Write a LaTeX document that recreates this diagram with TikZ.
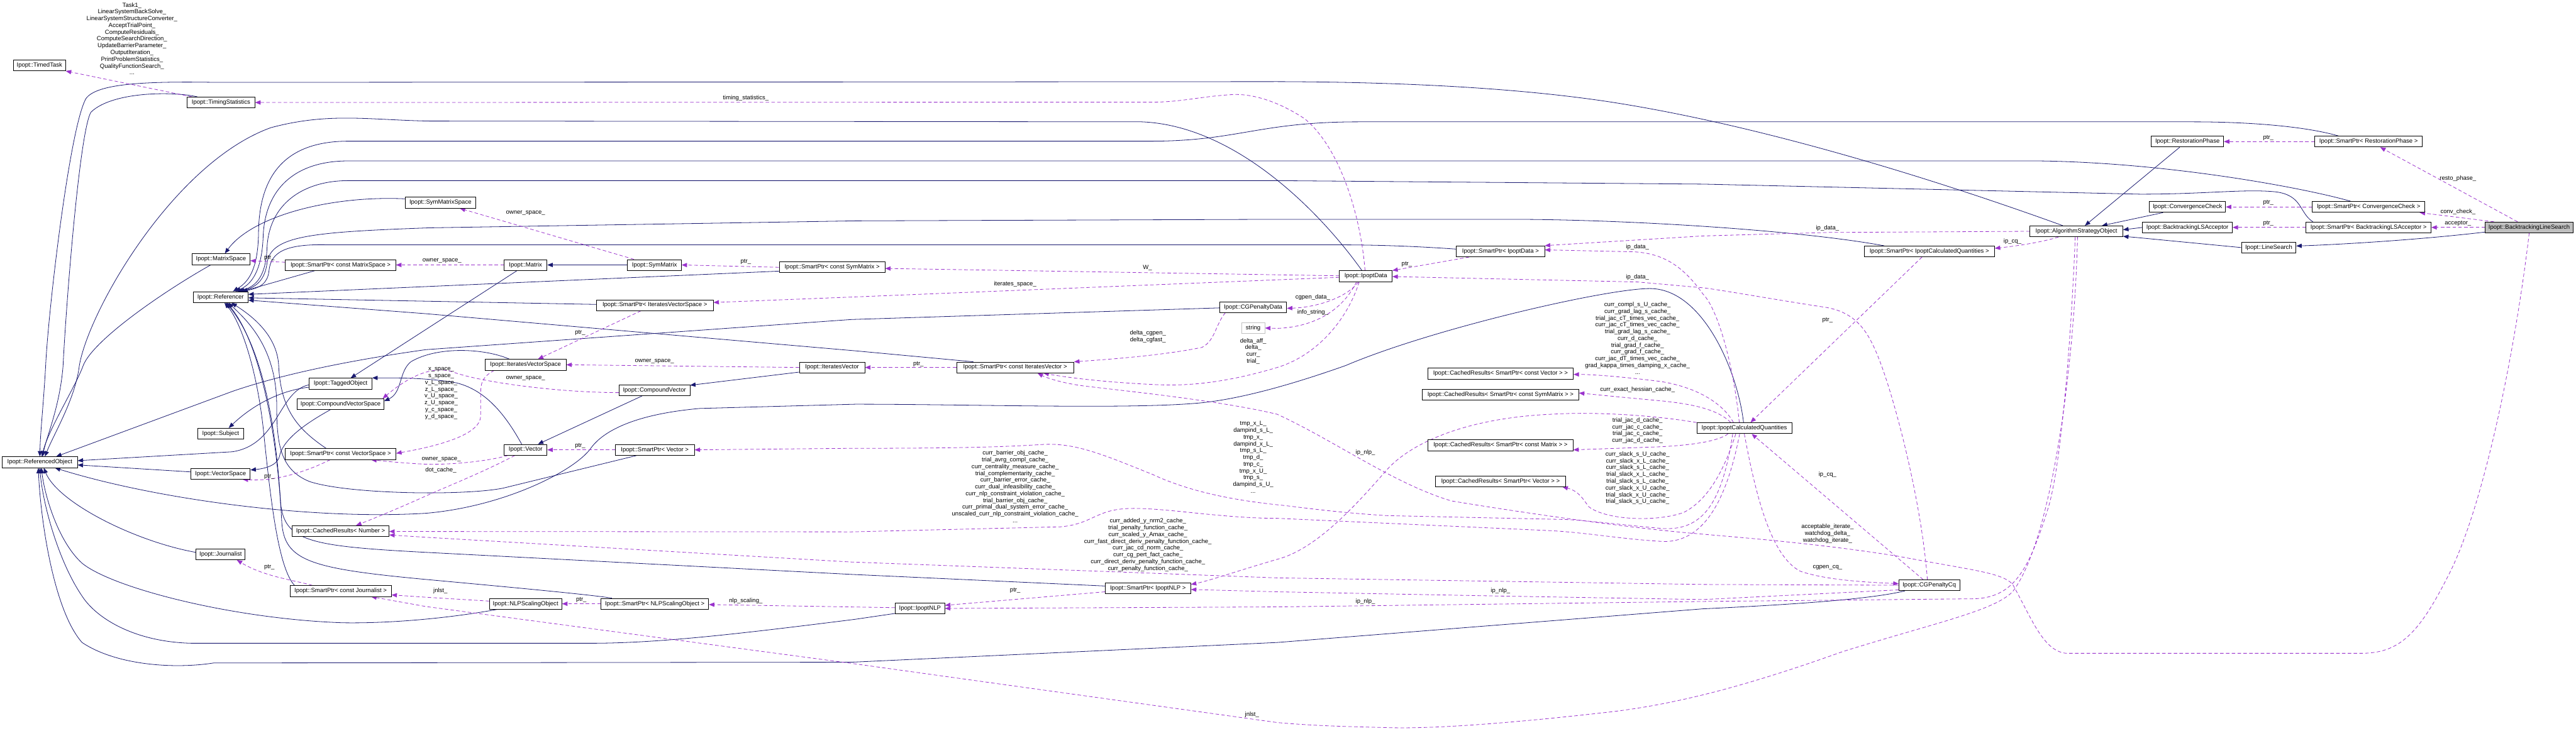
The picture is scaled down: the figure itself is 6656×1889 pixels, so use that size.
\documentclass[tikz,border=0pt]{standalone}
\usepackage{fontspec}
\setmainfont{Liberation Sans}
\usetikzlibrary{arrows.meta}
\definecolor{inhc}{HTML}{191970}
\definecolor{usec}{HTML}{9A32CD}
\pgfdeclarelayer{bg}
\pgfsetlayers{bg,main}
\newcommand{\dxfont}{\fontsize{15.5pt}{17.5pt}\selectfont}
\begin{document}
\begin{tikzpicture}[x=1pt,y=-1pt,
  box/.style={draw=black, line width=1.3pt, fill=white, minimum height=28pt, inner xsep=3pt, inner ysep=0pt, font=\dxfont, anchor=center},
  gbox/.style={box, draw=black!25},
  hbox/.style={box, fill=black!25},
  lbl/.style={font=\dxfont, align=center, inner sep=0pt, anchor=center},
  inh/.style={draw=inhc, line width=1.3pt, -{Triangle[length=14pt,width=11pt]}, fill=none},
  use/.style={draw=usec, line width=1.3pt, dash pattern=on 9pt off 6pt, -{Triangle[length=14pt,width=11pt]}, fill=none}
]
\useasboundingbox (0,0) rectangle (6656,1889);
% ---------------- nodes ----------------
\node[box, minimum width=136pt] (timed) at (102,169) {Ipopt::TimedTask};
\node[box, minimum width=175pt] (timing) at (571,265) {Ipopt::TimingStatistics};
\node[box, minimum width=150pt] (mspace) at (571,670) {Ipopt::MatrixSpace};
\node[box, minimum width=285pt] (spcmspace) at (880,685) {Ipopt::SmartPtr< const MatrixSpace >};
\node[box, minimum width=142pt] (refr) at (570,768) {Ipopt::Referencer};
\node[box, minimum width=181pt] (symspace) at (1138,524) {Ipopt::SymMatrixSpace};
\node[box, minimum width=111pt] (matrix) at (1358,685) {Ipopt::Matrix};
\node[box, minimum width=139pt] (symmat) at (1691,685) {Ipopt::SymMatrix};
\node[box, minimum width=273pt] (spcsym) at (2150,691) {Ipopt::SmartPtr< const SymMatrix >};
\node[box, minimum width=302pt] (spivs) at (1692,789) {Ipopt::SmartPtr< IteratesVectorSpace >};
\node[box, minimum width=209pt] (ivs) at (1358,943) {Ipopt::IteratesVectorSpace};
\node[box, minimum width=169pt] (itvec) at (2150,950) {Ipopt::IteratesVector};
\node[box, minimum width=303pt] (spciv) at (2623,950) {Ipopt::SmartPtr< const IteratesVector >};
\node[box, minimum width=162pt] (tagged) at (880,992) {Ipopt::TaggedObject};
\node[box, minimum width=224pt] (cvs) at (880,1045) {Ipopt::CompoundVectorSpace};
\node[box, minimum width=183pt] (cvec) at (1691,1009) {Ipopt::CompoundVector};
\node[box, minimum width=118pt] (subject) at (570,1121) {Ipopt::Subject};
\node[box, minimum width=194pt] (refobj) at (103,1195) {Ipopt::ReferencedObject};
\node[box, minimum width=286pt] (spcvs) at (880,1174) {Ipopt::SmartPtr< const VectorSpace >};
\node[box, minimum width=153pt] (vspace) at (570,1225) {Ipopt::VectorSpace};
\node[box, minimum width=111pt] (vec) at (1358,1163) {Ipopt::Vector};
\node[box, minimum width=204pt] (spvec) at (1692,1163) {Ipopt::SmartPtr< Vector >};
\node[box, minimum width=250pt] (crnum) at (880,1373) {Ipopt::CachedResults< Number >};
\node[box, minimum width=127pt] (jnl) at (570,1433) {Ipopt::Journalist};
\node[box, minimum width=262pt] (spcjnl) at (880,1528) {Ipopt::SmartPtr< const Journalist >};
\node[box, minimum width=187pt] (nlps) at (1358,1561) {Ipopt::NLPScalingObject};
\node[box, minimum width=278pt] (spnlps) at (1692,1561) {Ipopt::SmartPtr< NLPScalingObject >};
\node[box, minimum width=128pt] (nlp) at (2377,1573) {Ipopt::IpoptNLP};
\node[box, minimum width=221pt] (spnlp) at (2966,1521) {Ipopt::SmartPtr< IpoptNLP >};
\node[box, minimum width=173pt] (cgpd) at (3238,794) {Ipopt::CGPenaltyData};
\node[gbox, minimum width=60pt] (str) at (3238,848) {string};
\node[box, minimum width=136pt] (ipd) at (3529,714) {Ipopt::IpoptData};
\node[box, minimum width=228pt] (spipd) at (3877,650) {Ipopt::SmartPtr< IpoptData >};
\node[box, minimum width=376pt] (crcv) at (3877,966) {Ipopt::CachedResults< SmartPtr< const Vector > >};
\node[box, minimum width=404pt] (crcsm) at (3877,1020) {Ipopt::CachedResults< SmartPtr< const SymMatrix > >};
\node[box, minimum width=375pt] (crcm) at (3877,1151) {Ipopt::CachedResults< SmartPtr< const Matrix > >};
\node[box, minimum width=335pt] (crv) at (3877,1244) {Ipopt::CachedResults< SmartPtr< Vector > >};
\node[box, minimum width=245pt] (icq) at (4507,1107) {Ipopt::IpoptCalculatedQuantities};
\node[box, minimum width=337pt] (spicq) at (4985,650) {Ipopt::SmartPtr< IpoptCalculatedQuantities >};
\node[box, minimum width=240pt] (aso) at (5365,598) {Ipopt::AlgorithmStrategyObject};
\node[box, minimum width=157pt] (cgcq) at (4985,1513) {Ipopt::CGPenaltyCq};
\node[box, minimum width=187pt] (rp) at (5652,366) {Ipopt::RestorationPhase};
\node[box, minimum width=278pt] (sprp) at (6120,366) {Ipopt::SmartPtr< RestorationPhase >};
\node[box, minimum width=197pt] (cc) at (5652,535) {Ipopt::ConvergenceCheck};
\node[box, minimum width=291pt] (spcc) at (6120,535) {Ipopt::SmartPtr< ConvergenceCheck >};
\node[box, minimum width=232pt] (blsa) at (5652,588) {Ipopt::BacktrackingLSAcceptor};
\node[box, minimum width=323pt] (spblsa) at (6120,588) {Ipopt::SmartPtr< BacktrackingLSAcceptor >};
\node[hbox, minimum width=227pt] (bls) at (6535,588) {Ipopt::BacktrackingLineSearch};
\node[box, minimum width=141pt] (ls) at (5862,640) {Ipopt::LineSearch};
% ---------------- labels ----------------
\node[lbl] (l1) at (341,100) {Task1\_\\LinearSystemBackSolve\_\\LinearSystemStructureConverter\_\\AcceptTrialPoint\_\\ComputeResiduals\_\\ComputeSearchDirection\_\\UpdateBarrierParameter\_\\OutputIteration\_\\PrintProblemStatistics\_\\QualityFunctionSearch\_\\...};
\node[lbl] (l2) at (1927,254) {timing\_statistics\_};
\node[lbl] (l3) at (1358,550) {owner\_space\_};
\node[lbl] (l4) at (696,667) {ptr\_};
\node[lbl] (l5) at (1142,675) {owner\_space\_};
\node[lbl] (l6) at (1927,676) {ptr\_};
\node[lbl] (l7) at (2965,692) {W\_};
\node[lbl] (l8) at (2623,735) {iterates\_space\_};
\node[lbl] (l9) at (1499,860) {ptr\_};
\node[lbl] (l10) at (1691,935) {owner\_space\_};
\node[lbl] (l11) at (2966,870) {delta\_cgpen\_\\delta\_cgfast\_};
\node[lbl] (l12) at (3238,908) {delta\_aff\_\\delta\_\\curr\_\\trial\_};
\node[lbl] (l13) at (2373,941) {ptr\_};
\node[lbl] (l14) at (1140,1017) {x\_space\_\\s\_space\_\\v\_L\_space\_\\z\_L\_space\_\\v\_U\_space\_\\z\_U\_space\_\\y\_c\_space\_\\y\_d\_space\_};
\node[lbl] (l15) at (1358,978) {owner\_space\_};
\node[lbl] (l16) at (696,1232) {ptr\_};
\node[lbl] (l17) at (1140,1187) {owner\_space\_};
\node[lbl] (l18) at (1139,1215) {dot\_cache\_};
\node[lbl] (l19) at (1499,1152) {ptr\_};
\node[lbl] (l20) at (1138,1527) {jnlst\_};
\node[lbl] (l21) at (696,1467) {ptr\_};
\node[lbl] (l22) at (1502,1551) {ptr\_};
\node[lbl] (l23) at (1927,1554) {nlp\_scaling\_};
\node[lbl] (l24) at (2623,1526) {ptr\_};
\node[lbl] (l25) at (3235,1848) {jnlst\_};
\node[lbl] (l26) at (3238,1182) {tmp\_x\_L\_\\dampind\_s\_L\_\\tmp\_x\_\\dampind\_x\_L\_\\tmp\_s\_L\_\\tmp\_d\_\\tmp\_c\_\\tmp\_x\_U\_\\tmp\_s\_\\dampind\_s\_U\_\\...};
\node[lbl] (l27) at (2623,1258) {curr\_barrier\_obj\_cache\_\\trial\_avrg\_compl\_cache\_\\curr\_centrality\_measure\_cache\_\\trial\_complementarity\_cache\_\\curr\_barrier\_error\_cache\_\\curr\_dual\_infeasibility\_cache\_\\curr\_nlp\_constraint\_violation\_cache\_\\trial\_barrier\_obj\_cache\_\\curr\_primal\_dual\_system\_error\_cache\_\\unscaled\_curr\_nlp\_constraint\_violation\_cache\_\\...};
\node[lbl] (l28) at (2966,1409) {curr\_added\_y\_nrm2\_cache\_\\trial\_penalty\_function\_cache\_\\curr\_scaled\_y\_Amax\_cache\_\\curr\_fast\_direct\_deriv\_penalty\_function\_cache\_\\curr\_jac\_cd\_norm\_cache\_\\curr\_cg\_pert\_fact\_cache\_\\curr\_direct\_deriv\_penalty\_function\_cache\_\\curr\_penalty\_function\_cache\_};
\node[lbl] (l29) at (3392,768) {cgpen\_data\_};
\node[lbl] (l30) at (3392,807) {info\_string\_};
\node[lbl] (l31) at (3635,683) {ptr\_};
\node[lbl] (l32) at (4231,638) {ip\_data\_};
\node[lbl] (l33) at (4231,716) {ip\_data\_};
\node[lbl] (l34) at (4231,874) {curr\_compl\_s\_U\_cache\_\\curr\_grad\_lag\_s\_cache\_\\trial\_jac\_cT\_times\_vec\_cache\_\\curr\_jac\_cT\_times\_vec\_cache\_\\trial\_grad\_lag\_s\_cache\_\\curr\_d\_cache\_\\trial\_grad\_f\_cache\_\\curr\_grad\_f\_cache\_\\curr\_jac\_dT\_times\_vec\_cache\_\\grad\_kappa\_times\_damping\_x\_cache\_\\...};
\node[lbl] (l35) at (4231,1007) {curr\_exact\_hessian\_cache\_};
\node[lbl] (l36) at (4231,1113) {trial\_jac\_d\_cache\_\\curr\_jac\_c\_cache\_\\trial\_jac\_c\_cache\_\\curr\_jac\_d\_cache\_};
\node[lbl] (l37) at (4231,1236) {curr\_slack\_s\_U\_cache\_\\curr\_slack\_x\_L\_cache\_\\curr\_slack\_s\_L\_cache\_\\trial\_slack\_x\_L\_cache\_\\trial\_slack\_s\_L\_cache\_\\curr\_slack\_x\_U\_cache\_\\trial\_slack\_x\_U\_cache\_\\trial\_slack\_s\_U\_cache\_};
\node[lbl] (l38) at (3528,1170) {ip\_nlp\_};
\node[lbl] (l39) at (3877,1527) {ip\_nlp\_};
\node[lbl] (l40) at (3528,1555) {ip\_nlp\_};
\node[lbl] (l41) at (4722,590) {ip\_data\_};
\node[lbl] (l42) at (5200,624) {ip\_cq\_};
\node[lbl] (l43) at (4722,827) {ptr\_};
\node[lbl] (l44) at (4722,1227) {ip\_cq\_};
\node[lbl] (l45) at (4722,1380) {acceptable\_iterate\_\\watchdog\_delta\_\\watchdog\_iterate\_};
\node[lbl] (l46) at (4722,1467) {cgpen\_cq\_};
\node[lbl] (l47) at (5861,356) {ptr\_};
\node[lbl] (l48) at (6351,462) {resto\_phase\_};
\node[lbl] (l49) at (5861,524) {ptr\_};
\node[lbl] (l50) at (6351,547) {conv\_check\_};
\node[lbl] (l51) at (5861,577) {ptr\_};
\node[lbl] (l52) at (6351,577) {acceptor\_};
% ---------------- edges ----------------
\begin{pgfonlayer}{bg}
\fill[white] (0,0) rectangle (6656,1889);
% inheritance
\draw[inh] ([xshift=-61pt]timing.north) .. controls (450,236) and (290,236) .. (235,290) .. controls (205,340) and (170,800) .. (163,945) .. controls (155,1050) and (120,1130) .. ([xshift=7pt]refobj.north);
\draw[inh] ([xshift=-35pt]aso.north) .. controls (5100,500) and (4600,330) .. (4150,262) .. controls (3900,225) and (3600,212) .. (3300,211) -- (560,213) .. controls (380,210) and (250,215) .. (222,255) .. controls (180,330) and (125,800) .. (118,945) .. controls (112,1050) and (104,1120) .. (refobj.north);
\draw[inh] ([xshift=-10pt]ipd.north) .. controls (3420,560) and (3200,325) .. (2950,315) -- (1110,313) .. controls (950,310) and (850,290) .. (700,330) .. controls (450,420) and (230,800) .. (205,945) .. controls (195,1030) and (140,1120) .. ([xshift=13pt]refobj.north);
\draw[inh] ([xshift=-78pt]sprp.north) .. controls (5950,325) and (5800,315) .. (5665,315) -- (3512,315) .. controls (3250,315) and (3200,365) .. (2972,365) -- (900,365) .. controls (740,365) and (670,450) .. (668,600) .. controls (667,700) and (640,730) .. ([xshift=32pt]refr.north);
\draw[inh] ([xshift=-46pt]spcc.north) .. controls (5950,485) and (5600,420) .. (5265,416) -- (900,416) .. controls (760,416) and (685,490) .. (680,610) .. controls (677,700) and (650,735) .. ([xshift=38pt]refr.north);
\draw[inh] ([xshift=-144pt]spblsa.north) .. controls (5940,550) and (5950,505) .. (5880,496) .. controls (5800,488) and (5700,502) .. (5530,502) -- (4400,476) -- (3300,467) -- (900,467) .. controls (780,467) and (695,530) .. (690,640) .. controls (687,710) and (665,740) .. ([xshift=44pt]refr.north);
\draw[inh] ([yshift=10pt]symspace.west) .. controls (850,505) and (650,560) .. ([xshift=10pt]mspace.north);
\draw[inh] ([xshift=-117pt]spicq.north) .. controls (4650,595) and (4200,567) .. (3900,567) -- (3300,567) -- (2210,571) -- (1110,589) .. controls (800,600) and (700,610) .. (690,680) .. controls (685,720) and (665,742) .. ([xshift=48pt]refr.north);
\draw[inh] ([yshift=6pt]spipd.west) .. controls (3650,636) and (3550,633) .. (3450,633) -- (850,633) .. controls (740,630) and (700,650) .. (695,700) .. controls (692,730) and (675,745) .. ([xshift=52pt]refr.north);
\draw[inh] ([xshift=-66pt]spcmspace.south) -- ([xshift=56pt]refr.north);
\draw[inh] ([yshift=-10pt]spcsym.west) -- ([yshift=7pt]refr.east);
\draw[inh] ([yshift=2pt]spivs.west) -- ([yshift=-2pt]refr.east);
\draw[inh] ([xshift=-108pt]spciv.north) -- (2210,907) -- (1100,811) -- ([yshift=-8pt]refr.east);
\draw[inh] ([xshift=-22pt]matrix.south) -- ([xshift=26pt]tagged.north);
\draw[inh] ([xshift=-37pt]spcvs.north) .. controls (770,1110) and (725,1060) .. (720,944) .. controls (715,860) and (640,810) .. ([xshift=28pt]refr.south);
\draw[inh] ([xshift=-119pt]spcjnl.north) .. controls (720,1470) and (700,1300) .. (682,1125) .. controls (665,950) and (620,830) .. ([xshift=10pt]refr.south);
\draw[inh] ([xshift=-47pt]spvec.south) -- (1300,1262) .. controls (1200,1282) and (900,1278) .. (800,1245) .. controls (725,1215) and (715,1150) .. (715,1050) .. controls (715,900) and (640,830) .. ([xshift=20pt]refr.south);
\draw[inh] ([yshift=6pt]spnlp.west) -- (2200,1485) -- (1100,1428) .. controls (800,1412) and (735,1400) .. (725,1300) .. controls (710,1050) and (665,880) .. ([xshift=14pt]refr.south);
\draw[inh] ([xshift=-111pt]spnlps.north) .. controls (1540,1540) and (1450,1530) .. (1100,1498) .. controls (800,1470) and (735,1450) .. (728,1350) .. controls (715,1100) and (668,880) .. ([xshift=16pt]refr.south);
\draw[inh] ([yshift=-2pt]cgpd.west) -- (2200,826) -- (1100,904) .. controls (950,925) and (750,960) .. (600,1012) -- ([xshift=42pt]refobj.north);
\draw[inh] ([yshift=-3pt]tagged.west) .. controls (720,1010) and (720,1150) .. (600,1168) -- ([yshift=4pt]refobj.east);
\draw[inh] ([yshift=-9pt]tagged.west) .. controls (720,1010) and (650,1050) .. ([xshift=21pt]subject.north);
\draw[inh] ([yshift=5pt]vspace.west) -- ([yshift=-7pt]refobj.east);
\draw[inh] ([xshift=-27pt]cvs.south) .. controls (780,1100) and (730,1140) .. (722,1180) .. controls (716,1205) and (680,1212) .. ([yshift=10pt]vspace.east);
\draw[inh] ([xshift=-42pt]ivs.north) .. controls (1250,900) and (1130,895) .. (1062,935) .. controls (1030,960) and (1040,1015) .. ([yshift=8pt]cvs.east);
\draw[inh] ([yshift=-12pt]itvec.west) -- ([yshift=13pt]cvec.east);
\draw[inh] ([xshift=-32pt]cvec.south) -- ([xshift=32pt]vec.north);
\draw[inh] ([xshift=-10pt]vec.north) .. controls (1310,1080) and (1260,1010) .. (1180,990) .. controls (1100,975) and (1000,977) .. ([yshift=15pt]tagged.east);
\draw[inh] (symmat.west) -- (matrix.east);
\draw[inh] ([xshift=-26pt]mspace.south) .. controls (420,755) and (240,880) .. (215,945) .. controls (195,1000) and (125,1110) .. ([xshift=5pt]refobj.north);
\draw[inh] ([yshift=5pt]jnl.west) .. controls (350,1400) and (150,1300) .. ([xshift=10pt]refobj.south);
\draw[inh] ([xshift=-2pt]icq.north) .. controls (4490,960) and (4400,746) .. (4263,746) .. controls (4150,746) and (3700,850) .. (3477,945) .. controls (3350,990) and (3200,1035) .. (3085,1043) .. controls (2900,1058) and (2500,1045) .. (2210,1045) -- (1808,1056) .. controls (1650,1070) and (1560,1110) .. (1525,1161) .. controls (1480,1220) and (1300,1310) .. (1100,1327) .. controls (800,1345) and (400,1290) .. ([xshift=39pt]refobj.south);
\draw[inh] ([xshift=-74pt]nlps.south) .. controls (1150,1600) and (1000,1612) .. (885,1610) .. controls (600,1600) and (290,1520) .. (212,1456) .. controls (150,1400) and (115,1280) .. ([xshift=4pt]refobj.south);
\draw[inh] ([yshift=-13pt]nlp.west) -- (2210,1601) .. controls (1900,1640) and (1700,1663) .. (1525,1663) -- (496,1663) .. controls (350,1660) and (250,1600) .. (212,1541) .. controls (150,1450) and (110,1300) .. (refobj.south);
\draw[inh] ([xshift=-63pt]cgcq.south) .. controls (4850,1545) and (4700,1560) .. (4400,1574) -- (3300,1661) -- (2200,1712) -- (552,1714) .. controls (450,1730) and (300,1720) .. (212,1661) .. controls (140,1580) and (105,1350) .. ([xshift=-4pt]refobj.south);
\draw[inh] ([xshift=-20pt]rp.south) -- ([xshift=22pt]aso.north);
\draw[inh] ([xshift=-63pt]cc.south) -- ([xshift=66pt]aso.north);
\draw[inh] (blsa.west) -- ([yshift=4pt]aso.east);
\draw[inh] (ls.west) -- (5520,614) -- ([yshift=-13pt]aso.east);
\draw[inh] ([yshift=-12pt]bls.west) .. controls (6250,620) and (6050,632) .. ([yshift=4pt]ls.east);
% usage
\draw[use] ([xshift=-75pt]timing.north) -- ([xshift=68pt]timed.south);
\draw[use] ([xshift=-2pt]ipd.north) .. controls (3515,550) and (3460,380) .. (3371,307) .. controls (3300,260) and (3230,240) .. (3177,245) .. controls (3100,250) and (3050,264) .. (2979,264) -- (timing.east);
\draw[use] ([yshift=7pt]spcmspace.west) -- ([yshift=-4pt]mspace.east);
\draw[use] (matrix.west) -- (spcmspace.east);
\draw[use] ([xshift=-53pt]symmat.north) -- ([xshift=50pt]symspace.south);
\draw[use] (spcsym.west) -- (symmat.east);
\draw[use] ([yshift=1pt]ipd.west) -- ([yshift=-3pt]spcsym.east);
\draw[use] ([yshift=-3pt]ipd.west) -- (3310,723) -- (2200,768) -- ([yshift=7pt]spivs.east);
\draw[use] ([xshift=-36pt]spivs.south) -- ([xshift=32pt]ivs.north);
\draw[use] (itvec.west) -- (ivs.east);
\draw[use] ([yshift=-6pt]cvec.west) .. controls (1450,1015) and (1250,990) .. (1171,962) .. controls (1120,945) and (1060,970) .. ([xshift=-4pt]cvs.north east);
\draw[use] ([xshift=-81pt]ivs.south) .. controls (1245,975) and (1242,990) .. (1242,1020) -- (1242,1075) .. controls (1242,1120) and (1150,1150) .. ([yshift=2pt]spcvs.east);
\draw[use] ([xshift=-27pt]spcvs.south) .. controls (800,1215) and (720,1245) .. ([xshift=57pt]vspace.south);
\draw[use] ([xshift=-46pt]vec.south) .. controls (1250,1195) and (1150,1202) .. (1100,1200) .. controls (1050,1198) and (990,1192) .. ([xshift=79pt]spcvs.south);
\draw[use] ([xshift=-28pt]vec.south) .. controls (1250,1220) and (1150,1260) .. (1110,1278) .. controls (1050,1305) and (980,1335) .. ([xshift=40pt]crnum.north);
\draw[use] (spvec.west) -- (vec.east);
\draw[use] ([xshift=-30pt]icq.south) .. controls (4450,1300) and (4400,1375) .. (4291,1366) .. controls (4200,1358) and (4100,1345) .. (4043,1343) -- (3583,1333) .. controls (3450,1325) and (3350,1310) .. (3310,1306) .. controls (3150,1290) and (3050,1260) .. (2979,1227) .. controls (2850,1175) and (2780,1145) .. (2696,1149) .. controls (2600,1155) and (2500,1159) .. (2200,1159) -- (spvec.east);
\draw[use] ([xshift=-12pt]icq.south) .. controls (4460,1300) and (4400,1400) .. (4300,1400) .. controls (4200,1395) and (4100,1377) .. (4008,1372) -- (3300,1340) .. controls (3150,1340) and (3000,1310) .. (2908,1315) .. controls (2830,1320) and (2820,1355) .. (2740,1362) -- (2200,1375) -- ([yshift=-1pt]crnum.east);
\draw[use] (cgcq.west) -- (4400,1511) -- (3300,1494) -- (2200,1453) -- (1100,1389) -- ([yshift=-10pt]crnum.east);
\draw[use] ([yshift=-12pt]cgcq.west) -- (4400,1550) -- (3877,1541) -- (3300,1530) -- ([yshift=-3pt]spnlp.east);
\draw[use] (icq.north west) .. controls (4250,1070) and (4100,1065) .. (4008,1071) .. controls (3800,1080) and (3650,1140) .. (3583,1215) .. controls (3500,1310) and (3400,1420) .. (3300,1446) .. controls (3200,1475) and (3130,1500) .. ([yshift=10pt]spnlp.east);
\draw[use] ([xshift=-3pt]aso.south) .. controls (5355,800) and (5330,1200) .. (5290,1320) .. controls (5240,1480) and (5200,1545) .. (5100,1548) -- (4400,1555) -- (3300,1569) -- (nlp.east);
\draw[use] ([xshift=3pt]aso.south) .. controls (5360,950) and (5300,1400) .. (5200,1530) .. controls (5150,1580) and (5000,1610) .. (4760,1685) .. controls (4550,1760) and (4350,1820) .. (4148,1842) .. controls (3900,1870) and (3700,1885) .. (3583,1881) .. controls (3450,1878) and (3380,1875) .. (3300,1868) -- (2200,1715) -- (1100,1568) -- ([xshift=79pt]spcjnl.south);
\draw[use] ([yshift=7pt]nlps.west) -- (1100,1544) -- ([yshift=-10pt]spcjnl.east);
\draw[use] (spnlps.west) -- (nlps.east);
\draw[use] ([yshift=2pt]nlp.west) -- ([yshift=-2pt]spnlps.east);
\draw[use] ([yshift=-9pt]spnlp.west) -- ([yshift=8pt]nlp.east);
\draw[use] (aso.west) -- (4722,601) -- (4400,610) -- ([yshift=15pt]spipd.east);
\draw[use] ([xshift=-46pt]aso.south) .. controls (5280,625) and (5220,635) .. ([yshift=8pt]spicq.east);
\draw[use] ([xshift=-19pt]spicq.south) -- ([xshift=16pt]icq.north);
\draw[use] ([xshift=-13pt]icq.north) .. controls (4480,950) and (4440,800) .. (4400,760) .. controls (4350,690) and (4300,655) .. (4221,651) -- ([yshift=4pt]spipd.east);
\draw[use] ([xshift=-5pt]cgcq.north) .. controls (4965,1300) and (4900,1050) .. (4861,944) .. controls (4830,860) and (4800,810) .. (4720,795) .. controls (4600,777) and (4450,750) .. (4400,744) -- (4231,729) -- ([yshift=-1pt]ipd.east);
\draw[use] ([xshift=-16pt]cgcq.north) -- ([xshift=19pt]icq.south);
\draw[use] (icq.south) .. controls (4540,1300) and (4580,1440) .. (4652,1477) .. controls (4720,1500) and (4820,1505) .. ([yshift=4pt]cgcq.west);
\draw[use] (bls.south) .. controls (6500,900) and (6420,1300) .. (6330,1480) .. controls (6250,1640) and (6200,1689) .. (6100,1689) -- (5340,1689) .. controls (5280,1685) and (5250,1600) .. (5200,1510) .. controls (5170,1480) and (5100,1475) .. (4904,1438) .. controls (4700,1405) and (4500,1390) .. (4400,1381) .. controls (4200,1365) and (3900,1320) .. (3750,1295) .. controls (3600,1250) and (3450,1140) .. (3300,1071) .. controls (3150,1035) and (2900,1010) .. (2802,998) .. controls (2740,990) and (2700,975) .. ([xshift=58pt]spciv.south);
\draw[use] ([xshift=-17pt]ipd.south) .. controls (3480,830) and (3400,920) .. (3300,950) .. controls (3150,995) and (3050,998) .. (2979,994) .. controls (2850,988) and (2750,975) .. ([xshift=73pt]spciv.south);
\draw[use] ([xshift=-72pt]cgpd.south) .. controls (3140,840) and (3140,880) .. (3106,898) .. controls (3000,920) and (2850,930) .. (spciv.north east);
\draw[use] ([xshift=-19pt]ipd.south) .. controls (3480,770) and (3400,795) .. ([yshift=-3pt]cgpd.east);
\draw[use] ([xshift=-24pt]ipd.south) .. controls (3470,800) and (3400,845) .. (3300,849) -- (str.east);
\draw[use] ([xshift=-81pt]spipd.south) -- (ipd.north east);
\draw[use] ([xshift=-28pt]icq.north) .. controls (4450,1040) and (4380,1000) .. (4289,986) .. controls (4200,975) and (4120,968) .. ([yshift=-2pt]crcv.east);
\draw[use] ([xshift=-35pt]icq.north) .. controls (4440,1060) and (4380,1045) .. (4289,1036) .. controls (4200,1028) and (4120,1020) .. ([yshift=4pt]crcsm.east);
\draw[use] ([xshift=-42pt]icq.south) .. controls (4440,1140) and (4380,1150) .. (4291,1155) -- ([yshift=-12pt]crcm.east);
\draw[use] ([xshift=-22pt]icq.south) .. controls (4460,1200) and (4420,1290) .. (4350,1325) .. controls (4280,1350) and (4150,1345) .. (4105,1310) .. controls (4090,1290) and (4080,1270) .. ([xshift=160pt]crv.south);
\draw[use] (sprp.west) -- (rp.east);
\draw[use] (spcc.west) -- (cc.east);
\draw[use] (spblsa.west) -- (blsa.east);
\draw[use] ([xshift=-30pt]bls.north) -- ([xshift=30pt]sprp.south);
\draw[use] ([xshift=-91pt]bls.north) -- ([xshift=132pt]spcc.south);
\draw[use] (bls.west) -- (spblsa.east);
\draw[use] (spciv.west) -- (itvec.east);
\draw[use] ([xshift=-73pt]spcjnl.north) .. controls (760,1500) and (680,1490) .. ([xshift=42pt]jnl.south);
\end{pgfonlayer}
\end{tikzpicture}
\end{document}
